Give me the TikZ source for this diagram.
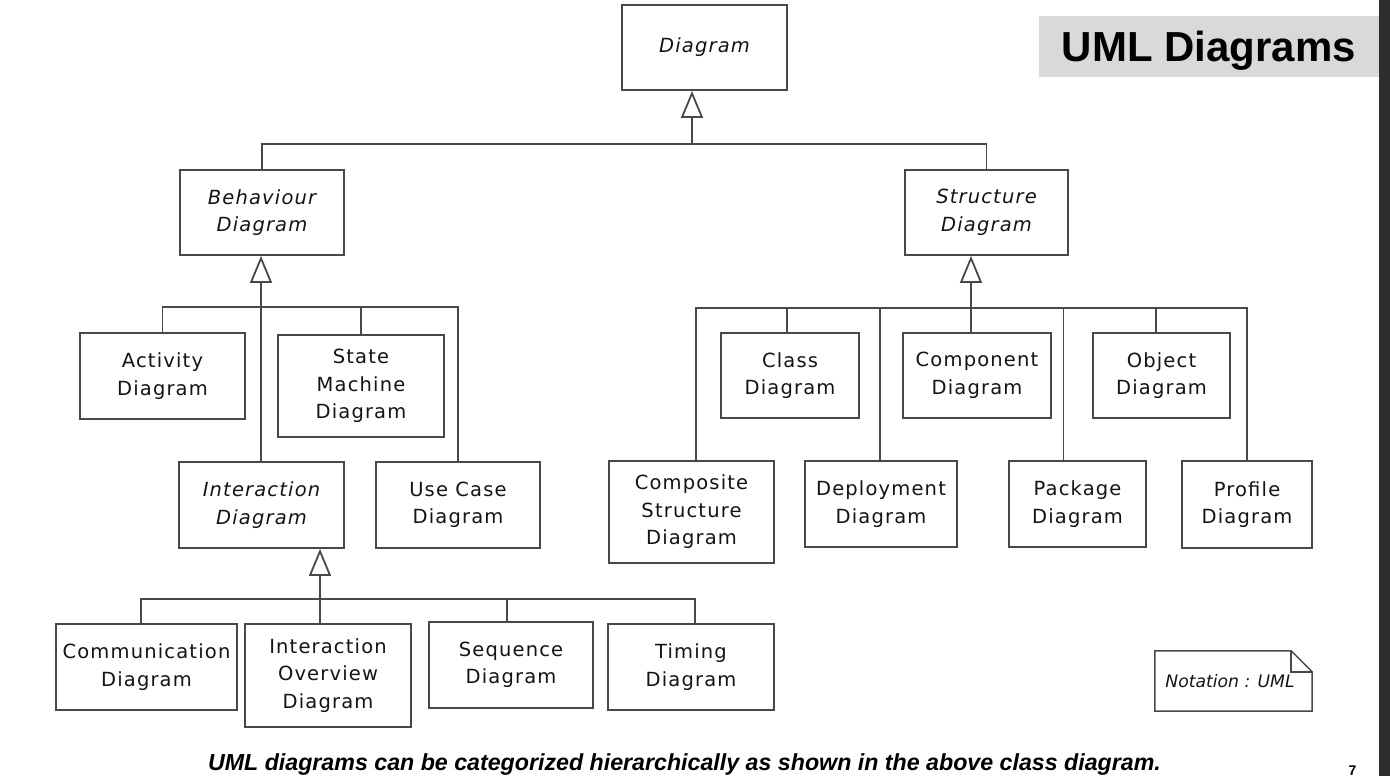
\documentclass[tikz,border=0pt]{standalone}
\usepackage{fontspec}
\usepackage{tikz}
\usetikzlibrary{arrows.meta, calc, positioning}
\setmainfont{DejaVu Sans}
\newfontfamily\boxfont[LetterSpace=6]{DejaVu Sans}
\newfontfamily\headfont{Liberation Sans}
\definecolor{umlline}{RGB}{72, 72, 72}
\definecolor{umltext}{RGB}{20, 20, 20}
\definecolor{titlegray}{RGB}{217, 217, 217}
\definecolor{edgedark}{RGB}{46, 46, 46}

\begin{document}
\begin{tikzpicture}[x=1pt, y=-1pt,
  umlbox/.style={draw=umlline, line width=1.8pt, fill=white, inner sep=0pt,
                 align=center, text=umltext,
                 font=\boxfont\fontsize{19.5}{27.5}\selectfont},
  abstract/.style={umlbox, font=\boxfont\itshape\fontsize{19.5}{27.5}\selectfont},
  boxsize/.style 2 args={minimum width=#1pt, minimum height=#2pt},
  link/.style={draw=umlline, line width=1.8pt},
  gen/.style={link, -{Triangle[open, length=27pt, width=22pt]}}]
  \useasboundingbox (0,0) rectangle (1390,776);
  \fill[edgedark] (1379,0) rectangle (1390,776);
  %---- title and caption ----------------------------------------------------
  \node[fill=titlegray, minimum width=340pt, minimum height=61pt, inner sep=0pt,
        font=\headfont\bfseries\fontsize{42}{42}\selectfont,
        text height=30pt, text depth=-3pt] (title) at (1209,46.5) {UML Diagrams};
  \node[anchor=base, font=\headfont\bfseries\itshape\fontsize{23.2}{23.2}\selectfont]
    (caption) at (684.5,770)
    {UML diagrams can be categorized hierarchically as shown in the above class diagram.};
  \node[anchor=base, font=\headfont\bfseries\fontsize{14}{14}\selectfont]
    (pageno) at (1352.5,775) {7};
  %---- class boxes ----------------------------------------------------------
  \node[abstract, boxsize={165}{85}] (diagram) at (704.5,47.5) {Diagram};
  \node[abstract, boxsize={164}{85}] (behaviour) at (262,212.5) {Behaviour\\Diagram};
  \node[abstract, boxsize={163}{85}] (structure) at (986.5,212.5) {Structure\\Diagram};
  \node[umlbox, boxsize={165}{86}] (activity) at (162.5,376) {Activity\\Diagram};
  \node[umlbox, boxsize={166}{102}] (statemachine) at (361,386) {State\\Machine\\Diagram};
  \node[abstract, boxsize={165}{86}] (interaction) at (261.5,505) {Interaction\\Diagram};
  \node[umlbox, boxsize={164}{86}] (usecase) at (458,505) {Use Case\\Diagram};
  \node[umlbox, boxsize={181}{86}] (communication) at (146.5,667) {Communication\\Diagram};
  \node[umlbox, boxsize={166}{103}] (overview) at (328,675.5) {Interaction\\Overview\\Diagram};
  \node[umlbox, boxsize={164}{86}] (sequence) at (511,665) {Sequence\\Diagram};
  \node[umlbox, boxsize={166}{86}] (timing) at (691,667) {Timing\\Diagram};
  \node[umlbox, boxsize={165}{102}] (composite) at (691.5,512) {Composite\\Structure\\Diagram};
  \node[umlbox, boxsize={138}{85}] (class) at (790,375.5) {Class\\Diagram};
  \node[umlbox, boxsize={152}{86}] (deployment) at (881,504) {Deployment\\Diagram};
  \node[umlbox, boxsize={148}{85}] (component) at (977,375.5) {Component\\Diagram};
  \node[umlbox, boxsize={137}{86}] (package) at (1077.5,504) {Package\\Diagram};
  \node[umlbox, boxsize={137}{85}] (object) at (1161.5,375.5) {Object\\Diagram};
  \node[umlbox, boxsize={130}{87}] (profile) at (1247,504.5) {Profile\\Diagram};
  %---- generalisations: Diagram ---------------------------------------------
  \coordinate (topbus) at (692,144);
  \draw[gen] (topbus) -- (topbus |- diagram.south);
  \draw[link] (behaviour.north) |- (topbus);
  \draw[link] (structure.north) |- (topbus);
  %---- generalisations: Behaviour Diagram -----------------------------------
  \coordinate (behbus) at (261,307);
  \draw[gen] (interaction.north -| behbus) -- (behbus |- behaviour.south);
  \draw[link] (activity.north) |- (behbus);
  \draw[link] (statemachine.north) |- (behbus);
  \draw[link] (usecase.north) |- (behbus);
  %---- generalisations: Interaction Diagram ---------------------------------
  \coordinate (intbus) at (320,599);
  \draw[gen] (overview.north -| intbus) -- (intbus |- interaction.south);
  \draw[link] ([xshift=-5.5pt]communication.north) |- (intbus);
  \draw[link] ([xshift=-4pt]sequence.north) |- (intbus);
  \draw[link] ([xshift=4pt]timing.north) |- (intbus);
  %---- generalisations: Structure Diagram -----------------------------------
  \coordinate (strbus) at (971,308);
  \draw[gen] (component.north -| strbus) -- (strbus |- structure.south);
  \draw[link] ([xshift=4.5pt]composite.north) |- (strbus);
  \draw[link] ([xshift=-3pt]class.north) |- (strbus);
  \draw[link] ([xshift=-1pt]deployment.north) |- (strbus);
  \draw[link] ([xshift=-14pt]package.north) |- (strbus);
  \draw[link] ([xshift=-5.5pt]object.north) |- (strbus);
  \draw[link] (profile.north) |- (strbus);
  %---- note -----------------------------------------------------------------
  \node[minimum width=157pt, minimum height=60pt, inner sep=0pt, text=umltext,
        font=\itshape\fontsize{17.2}{20}\selectfont] (notation) at (1233.5,681)
    {\hspace*{-7pt}Notation : UML};
  \draw[link, line width=1.5pt] (notation.north west) -- ([xshift=-21pt]notation.north east)
    -- ([yshift=-21pt]notation.north east) -- (notation.south east)
    -- (notation.south west) -- cycle;
  \draw[link, line width=1.5pt] ([xshift=-21pt]notation.north east)
    |- ([yshift=-21pt]notation.north east);
\end{tikzpicture}
\end{document}
